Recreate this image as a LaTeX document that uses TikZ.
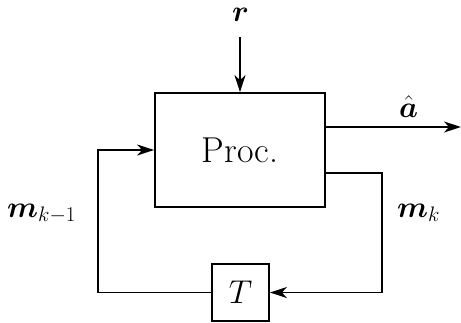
\RequirePackage{fix-cm}
\documentclass[tikz,border=0pt]{standalone}
\usepackage{amsmath}
\usetikzlibrary{arrows.meta}
\begin{document}
\begin{tikzpicture}[x=1pt,y=-1pt,
  blk/.style={draw,line width=1.8pt,inner sep=0pt},
  wire/.style={line width=1.8pt},
  sig/.style={wire,-{Stealth[length=17pt,width=11pt,inset=5pt]}},
  lbl/.style={inner sep=0pt,anchor=base west,font=\fontsize{30}{36}\selectfont}]
\useasboundingbox (0,0) rectangle (461,322);
% blocks
\node[blk,minimum width=170pt,minimum height=114pt,font=\fontsize{36}{43}\selectfont] (proc) at (240,150) {Proc.};
\node[blk,minimum width=57pt,minimum height=57pt,font=\fontsize{33}{40}\selectfont] (T) at (240.5,292.5) {$T$};
% labels
\node[lbl] (r) at (232,21) {$\boldsymbol{r}$};
\node[lbl] (ahat) at (399,117) {$\hat{\boldsymbol{a}}$};
\node[lbl] (mk) at (397,217) {$\boldsymbol{m}_k$};
\node[lbl] (mk1) at (7,217) {$\boldsymbol{m}_{k-1}$};
% route points
\coordinate (rin) at (240,37);
\coordinate (aout) at (461,127);
\coordinate (mkc) at (382,173);
\coordinate (fb) at (98,150);
% connectors
\draw[sig] (rin) -- (rin |- proc.north);
\draw[sig] (aout -| proc.east) -- (aout);
\draw[sig] (mkc -| proc.east) -- (mkc) |- (T.east);
\draw[sig] (T.west) -| (fb) -- (proc.west);
\end{tikzpicture}
\end{document}
